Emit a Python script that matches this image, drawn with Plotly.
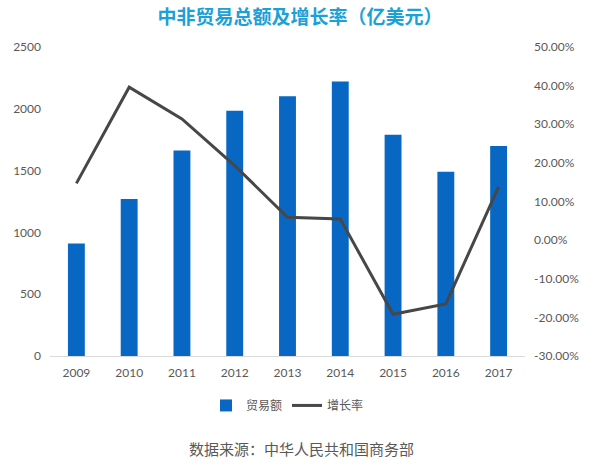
import plotly.graph_objects as go

years = ["2009", "2010", "2011", "2012", "2013", "2014", "2015", "2016", "2017"]
trade = [910, 1270, 1663, 1985, 2102, 2220, 1790, 1490, 1700]
growth = [14.7, 39.6, 31.4, 19.3, 5.9, 5.5, -19.2, -16.5, 13.8]
left_ticks = [0, 500, 1000, 1500, 2000, 2500]
right_ticks = [-30, -20, -10, 0, 10, 20, 30, 40, 50]
right_labels = [f"{v:.2f}%" for v in right_ticks]

tick_font = dict(family="Lato, 'Noto Sans CJK SC', sans-serif", size=12, color="#595959")
cjk = "'Noto Sans CJK SC', sans-serif"

fig = go.Figure()
fig.add_trace(go.Bar(x=years, y=trade, name="贸易额", marker_color="#0767C2",
                     marker_line_width=0))
fig.add_trace(go.Scatter(x=years, y=growth, name="增长率", mode="lines",
                         line=dict(color="#474747", width=3), yaxis="y2"))

plot_h = 464 - 47 - 108
fig.update_layout(
    width=600, height=464,
    margin=dict(l=50, r=75, t=47, b=108),
    paper_bgcolor="white", plot_bgcolor="white",
    bargap=0.68,
    title=dict(text="<b>中非贸易总额及增长率（亿美元）</b>", x=0.5, xanchor="center",
               y=0.963, yanchor="middle",
               font=dict(family=cjk, size=19, color="#1BA1D6")),
    xaxis=dict(showgrid=False, showline=True, linecolor="#D9D9D9", linewidth=1,
               tickfont=tick_font, ticks="", ticklabelstandoff=6),
    yaxis=dict(range=[0, 2500], tickvals=left_ticks, showgrid=False, zeroline=False,
               showline=False, tickfont=tick_font, ticks="", ticklabelstandoff=8),
    yaxis2=dict(range=[-30, 50], tickvals=right_ticks, ticktext=right_labels,
                overlaying="y", side="right", showgrid=False, zeroline=False,
                showline=False, tickfont=tick_font, ticks="", ticklabelstandoff=8),
    legend=dict(orientation="h", x=0.5, xanchor="center", y=-0.16, yanchor="middle",
                font=dict(family=cjk, size=12, color="#595959"), itemwidth=30),
    showlegend=True,
    annotations=[dict(text="数据来源：中华人民共和国商务部",
                      x=(301 - 50) / (600 - 50 - 75), xref="paper",
                      y=(356 - 449) / plot_h, yref="paper", yanchor="middle",
                      showarrow=False,
                      font=dict(family=cjk, size=15, color="#595959"))],
)

fig.write_html("out.html")
